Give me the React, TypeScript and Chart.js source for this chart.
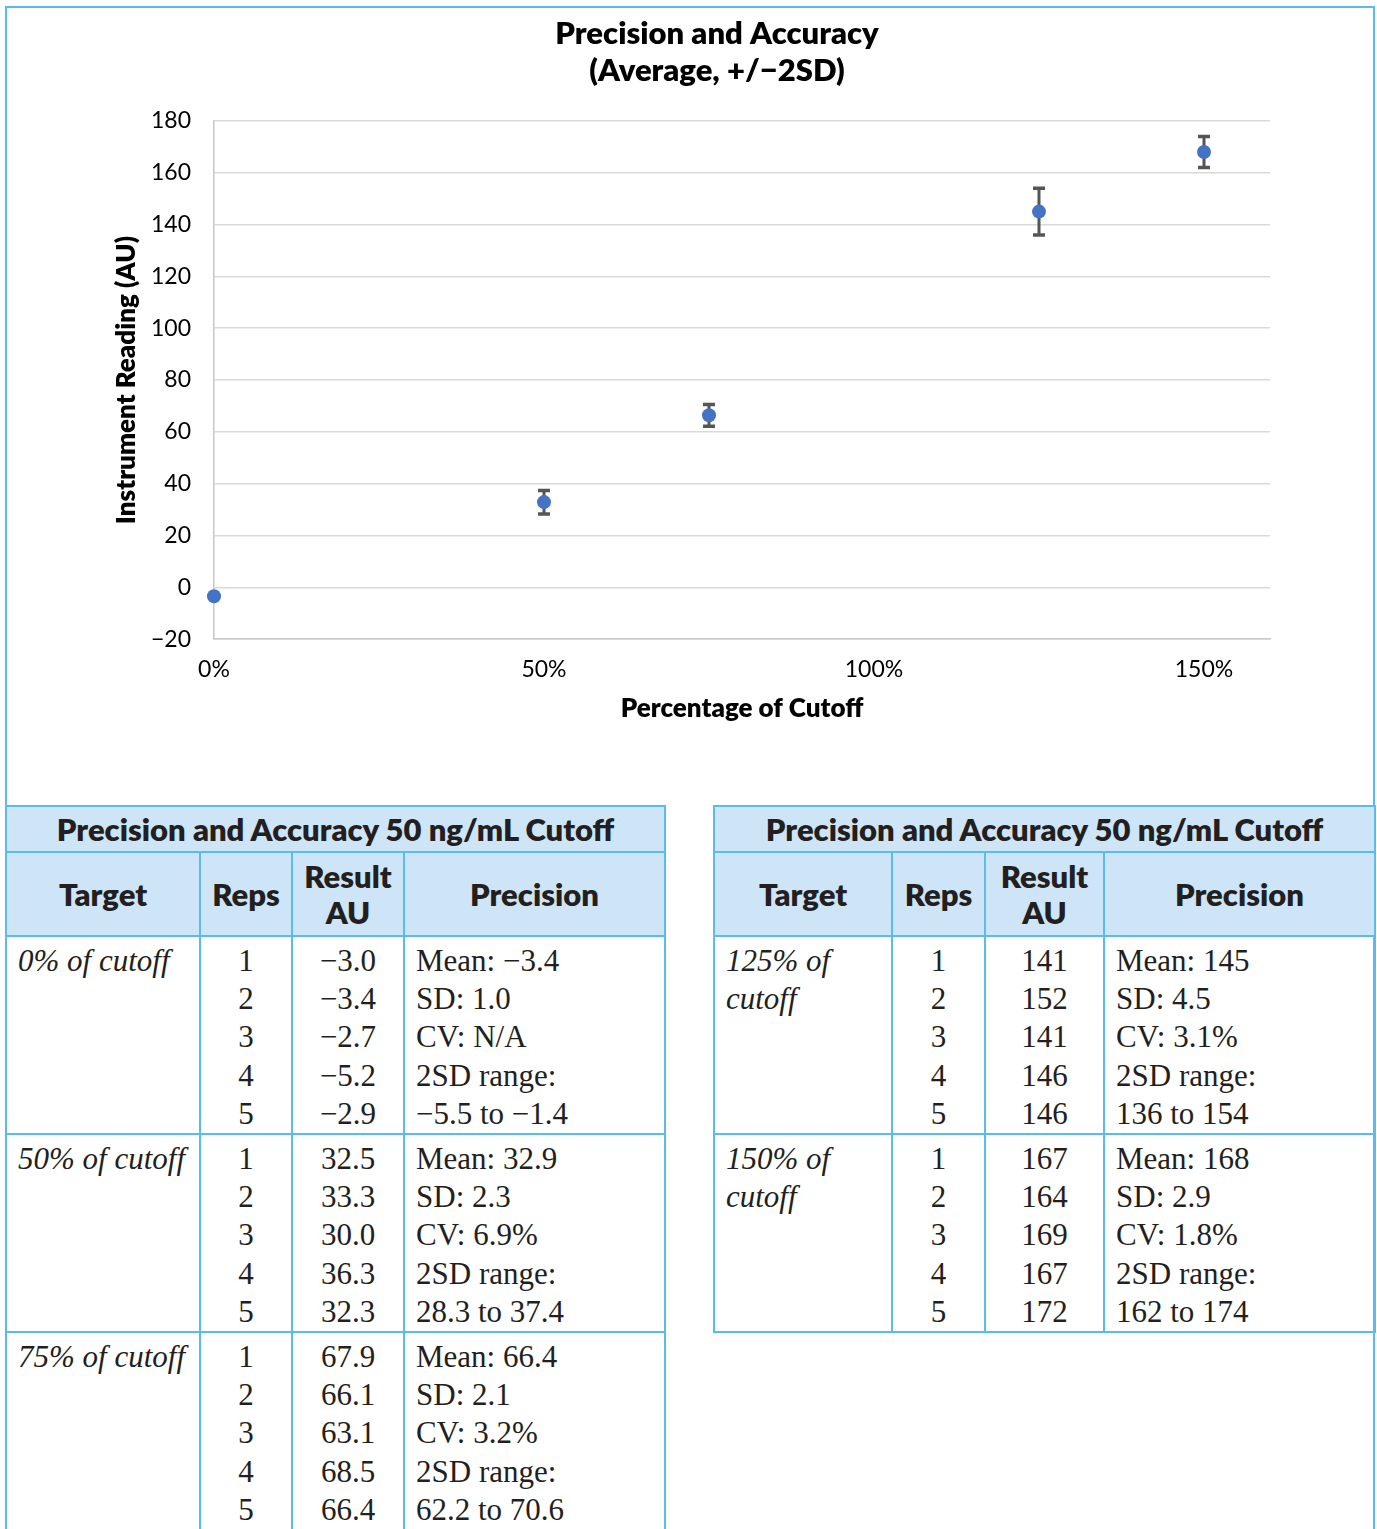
import React, { useEffect, useRef } from 'react';
import { Chart, registerables } from 'chart.js';

Chart.register(...registerables);

// ---- chart data ----
const targetPercents = [0, 0.5, 0.75, 1.25, 1.5];
const meanReadings = [-3.4, 32.9, 66.4, 145, 168];
const lowReadings = [-5.5, 28.3, 62.2, 136, 162];
const highReadings = [-1.4, 37.4, 70.6, 154, 174];
const xTickValues = [0, 0.5, 1, 1.5];
const yMin = -20;
const yMax = 180;
const yStep = 20;
const xMin = 0;
const xMax = 1.6;

const chartTitle = ['Precision and Accuracy', '(Average, +/\u22122SD)'];
const xAxisTitle = 'Percentage of Cutoff';
const yAxisTitle = 'Instrument Reading (AU)';

// ---- table data ----
const tableTitle = 'Precision and Accuracy 50 ng/mL Cutoff';
const headerLabels = ['Target', 'Reps', 'Result\nAU', 'Precision'];
const repNumbers = ['1', '2', '3', '4', '5'];

const leftTargets = ['0% of cutoff', '50% of cutoff', '75% of cutoff'];
const leftResults = [
  ['\u22123.0', '\u22123.4', '\u22122.7', '\u22125.2', '\u22122.9'],
  ['32.5', '33.3', '30.0', '36.3', '32.3'],
  ['67.9', '66.1', '63.1', '68.5', '66.4'],
];
const leftPrecision = [
  ['Mean: \u22123.4', 'SD: 1.0', 'CV: N/A', '2SD range:', '\u22125.5 to \u22121.4'],
  ['Mean: 32.9', 'SD: 2.3', 'CV: 6.9%', '2SD range:', '28.3 to 37.4'],
  ['Mean: 66.4', 'SD: 2.1', 'CV: 3.2%', '2SD range:', '62.2 to 70.6'],
];

const rightTargets = ['125% of\ncutoff', '150% of\ncutoff'];
const rightResults = [
  ['141', '152', '141', '146', '146'],
  ['167', '164', '169', '167', '172'],
];
const rightPrecision = [
  ['Mean: 145', 'SD: 4.5', 'CV: 3.1%', '2SD range:', '136 to 154'],
  ['Mean: 168', 'SD: 2.9', 'CV: 1.8%', '2SD range:', '162 to 174'],
];

const BLUE_BORDER = '#5BBCEB';
const HEADER_BG = '#CDE5F7';
const TEXT = '#231F20';
const POINT_RADIUS = 7;

const errorBarPlugin = {
  id: 'errorBars',
  beforeDatasetsDraw(chart: any) {
    const { ctx } = chart;
    const x = chart.scales.x;
    const y = chart.scales.y;
    ctx.save();
    ctx.strokeStyle = '#555555';
    ctx.lineWidth = 3;
    ctx.lineCap = 'butt';
    targetPercents.forEach((p, i) => {
      const px = x.getPixelForValue(p);
      const top = y.getPixelForValue(highReadings[i]);
      const bot = y.getPixelForValue(lowReadings[i]);
      if (bot - top <= POINT_RADIUS * 2) return; // hidden behind the marker
      ctx.beginPath();
      ctx.moveTo(px, top);
      ctx.lineTo(px, bot);
      ctx.stroke();
      ctx.lineWidth = 3.5;
      ctx.beginPath();
      ctx.moveTo(px - 6, top);
      ctx.lineTo(px + 6, top);
      ctx.moveTo(px - 6, bot);
      ctx.lineTo(px + 6, bot);
      ctx.stroke();
      ctx.lineWidth = 3;
    });
    ctx.restore();
  },
};

function ChartPanel() {
  const ref = useRef<HTMLCanvasElement | null>(null);
  useEffect(() => {
    if (!ref.current) return;
    const chart = new Chart(ref.current, {
      type: 'scatter',
      data: {
        datasets: [
          {
            label: 'Average',
            data: targetPercents.map((p, i) => ({ x: p, y: meanReadings[i] })),
            backgroundColor: '#4472C4',
            borderColor: '#4472C4',
            borderWidth: 0,
            pointRadius: POINT_RADIUS,
            pointHoverRadius: POINT_RADIUS,
            clip: false,
          } as any,
        ],
      },
      options: {
        animation: false,
        responsive: false,
        events: [],
        layout: { padding: { left: 0, right: 0, top: 0, bottom: 81 } },
        plugins: {
          legend: { display: false },
          tooltip: { enabled: false },
          title: {
            display: true,
            text: chartTitle,
            color: '#000',
            font: { family: 'Lato', size: 31, weight: 800 as any, lineHeight: 1.2 },
            padding: { top: 7, bottom: 31.5 },
          },
        },
        scales: {
          x: {
            type: 'linear',
            min: xMin,
            max: xMax,
            afterBuildTicks: (axis: any) => {
              axis.ticks = xTickValues.map((v) => ({ value: v }));
            },
            ticks: {
              color: '#000',
              font: { family: 'Lato', size: 23 },
              padding: 17,
              callback: (v: any) => `${Math.round(Number(v) * 100)}%`,
            },
            grid: { display: false, drawTicks: false },
            border: { display: true, color: '#c8c8c8', width: 1.5 },
            title: {
              display: true,
              text: xAxisTitle,
              color: '#000',
              font: { family: 'Lato', size: 26, weight: 800 as any },
              padding: { top: -8, bottom: 0 },
            },
          },
          y: {
            min: yMin,
            max: yMax,
            afterFit: (s: any) => {
              s.width = 153;
            },
            ticks: {
              stepSize: yStep,
              color: '#000',
              font: { family: 'Lato', size: 23 },
              padding: 23,
              callback: (v: any) => (Number(v) < 0 ? `\u2212${Math.abs(Number(v))}` : `${v}`),
            },
            grid: { color: '#d9d9d9', lineWidth: 1.5, drawTicks: false },
            border: { display: true, color: '#c8c8c8', width: 1.5 },
            title: {
              display: true,
              text: yAxisTitle,
              color: '#000',
              font: { family: 'Lato', size: 26, weight: 800 as any },
              padding: { top: 50, bottom: 8 },
            },
          },
          yRightSpace: {
            position: 'right',
            display: true,
            afterFit: (s: any) => {
              s.width = 103;
            },
            ticks: { display: false },
            grid: { display: false, drawTicks: false },
            border: { display: false },
          },
        },
      },
      plugins: [errorBarPlugin],
    });
    return () => chart.destroy();
  }, []);
  return (
    <canvas
      ref={ref}
      width={1312}
      height={797}
      style={{ position: 'absolute', left: 54, top: 0, width: 1312, height: 797 }}
    />
  );
}

const cellBorder = `2px solid ${BLUE_BORDER}`;

function DataTable(props: {
  widths: number[];
  targets: string[];
  results: string[][];
  precision: string[][];
  style: React.CSSProperties;
}) {
  const { widths, targets, results, precision, style } = props;
  const headCell: React.CSSProperties = {
    border: cellBorder,
    background: HEADER_BG,
    fontFamily: 'Lato, sans-serif',
    fontWeight: 800,
    fontSize: 31,
    color: TEXT,
    textAlign: 'center',
    verticalAlign: 'middle',
    padding: 0,
    lineHeight: '36px',
    whiteSpace: 'pre-line',
  };
  const bodyCell: React.CSSProperties = {
    border: cellBorder,
    fontFamily: '"Liberation Serif", serif',
    fontSize: 31,
    color: TEXT,
    verticalAlign: 'top',
    lineHeight: '38.2px',
    padding: '5px 0 0 0',
  };
  return (
    <table
      style={{
        borderCollapse: 'collapse',
        tableLayout: 'fixed',
        width: widths.reduce((a, b) => a + b, 0),
        ...style,
      }}
    >
      <colgroup>
        {widths.map((w, i) => (
          <col key={i} style={{ width: w }} />
        ))}
      </colgroup>
      <tbody>
        <tr style={{ height: 46 }}>
          <td colSpan={4} style={headCell}>
            {tableTitle}
          </td>
        </tr>
        <tr style={{ height: 84 }}>
          {headerLabels.map((h, i) => (
            <td key={i} style={headCell}>
              {h}
            </td>
          ))}
        </tr>
        {targets.map((t, g) => (
          <tr key={g}>
            <td style={{ ...bodyCell, fontStyle: 'italic', paddingLeft: 11, whiteSpace: 'pre-line' }}>{t}</td>
            <td style={{ ...bodyCell, textAlign: 'center' }}>
              {repNumbers.map((r, i) => (
                <div key={i}>{r}</div>
              ))}
            </td>
            <td style={{ ...bodyCell, textAlign: 'center' }}>
              {results[g].map((r, i) => (
                <div key={i}>{r}</div>
              ))}
            </td>
            <td style={{ ...bodyCell, paddingLeft: 11 }}>
              {precision[g].map((r, i) => (
                <div key={i}>{r}</div>
              ))}
            </td>
          </tr>
        ))}
      </tbody>
    </table>
  );
}

export default function App() {
  return (
    <div
      style={{
        position: 'absolute',
        left: 5,
        top: 6,
        width: 1370,
        height: 1560,
        boxSizing: 'border-box',
        border: `2px solid ${BLUE_BORDER}`,
        background: '#fff',
      }}
    >
      <ChartPanel />
      <DataTable
        widths={[194, 92, 112, 261]}
        targets={leftTargets}
        results={leftResults}
        precision={leftPrecision}
        style={{ position: 'absolute', left: -2, top: 797 }}
      />
      <DataTable
        widths={[178, 93, 119, 271]}
        targets={rightTargets}
        results={rightResults}
        precision={rightPrecision}
        style={{ position: 'absolute', left: 706, top: 797 }}
      />
    </div>
  );
}
